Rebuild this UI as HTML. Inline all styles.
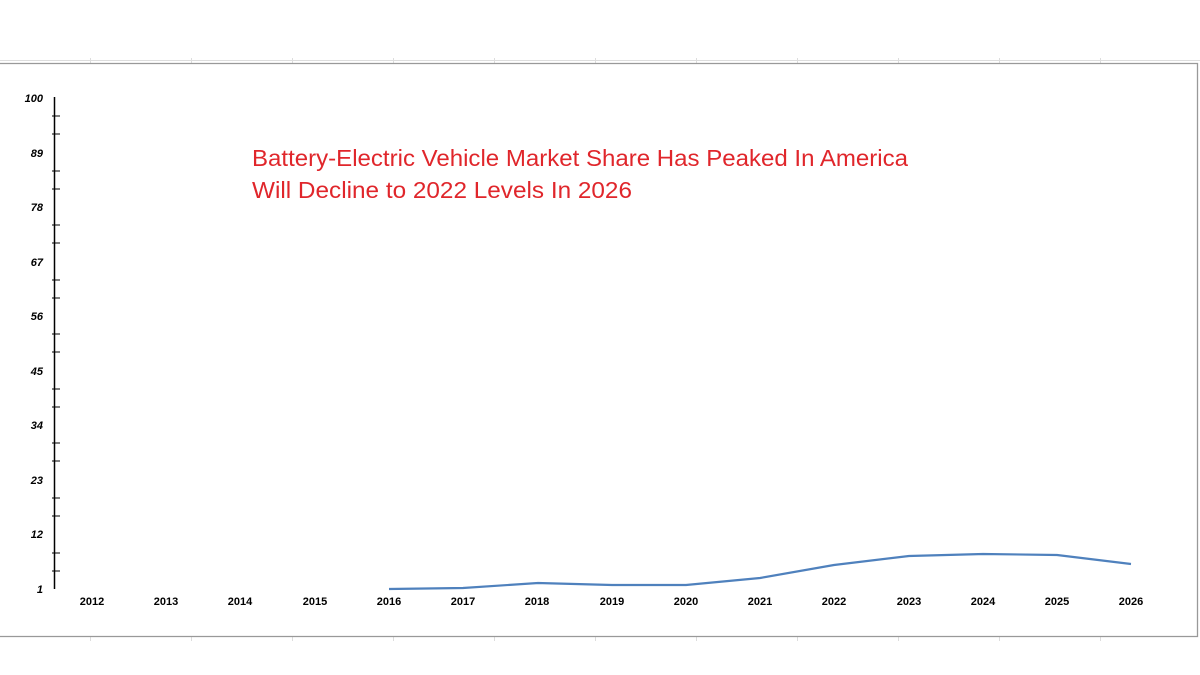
<!DOCTYPE html>
<html><head><meta charset="utf-8"><style>
html,body{margin:0;padding:0;background:#fff;}
svg{display:block}
</style></head><body>
<svg width="1200" height="675" viewBox="0 0 1200 675" xmlns="http://www.w3.org/2000/svg">
<rect width="1200" height="675" fill="#fff"/>
<line x1="0" y1="60.5" x2="1200" y2="60.5" stroke="#ddd" stroke-width="1"/>
<g stroke="#ddd" stroke-width="1">
<line x1="90.5" y1="58" x2="90.5" y2="63"/><line x1="191.5" y1="58" x2="191.5" y2="63"/><line x1="292.5" y1="58" x2="292.5" y2="63"/><line x1="393.5" y1="58" x2="393.5" y2="63"/><line x1="494.5" y1="58" x2="494.5" y2="63"/><line x1="595.5" y1="58" x2="595.5" y2="63"/><line x1="696.5" y1="58" x2="696.5" y2="63"/><line x1="797.5" y1="58" x2="797.5" y2="63"/><line x1="898.5" y1="58" x2="898.5" y2="63"/><line x1="999.5" y1="58" x2="999.5" y2="63"/><line x1="1100.5" y1="58" x2="1100.5" y2="63"/>
<line x1="90.5" y1="636" x2="90.5" y2="641"/><line x1="191.5" y1="636" x2="191.5" y2="641"/><line x1="292.5" y1="636" x2="292.5" y2="641"/><line x1="393.5" y1="636" x2="393.5" y2="641"/><line x1="494.5" y1="636" x2="494.5" y2="641"/><line x1="595.5" y1="636" x2="595.5" y2="641"/><line x1="696.5" y1="636" x2="696.5" y2="641"/><line x1="797.5" y1="636" x2="797.5" y2="641"/><line x1="898.5" y1="636" x2="898.5" y2="641"/><line x1="999.5" y1="636" x2="999.5" y2="641"/><line x1="1100.5" y1="636" x2="1100.5" y2="641"/>
</g>
<path d="M0 63.5 H1197.5 V636.5 H0" fill="none" stroke="#999" stroke-width="1.3"/>
<line x1="54.5" y1="97" x2="54.5" y2="589" stroke="#000" stroke-width="1.5"/>
<g stroke="#000" stroke-width="1">
<line x1="52" y1="116" x2="60" y2="116"/><line x1="52" y1="134" x2="60" y2="134"/>
<line x1="52" y1="171" x2="60" y2="171"/><line x1="52" y1="189" x2="60" y2="189"/>
<line x1="52" y1="225" x2="60" y2="225"/><line x1="52" y1="243" x2="60" y2="243"/>
<line x1="52" y1="280" x2="60" y2="280"/><line x1="52" y1="298" x2="60" y2="298"/>
<line x1="52" y1="334" x2="60" y2="334"/><line x1="52" y1="352" x2="60" y2="352"/>
<line x1="52" y1="389" x2="60" y2="389"/><line x1="52" y1="407" x2="60" y2="407"/>
<line x1="52" y1="443" x2="60" y2="443"/><line x1="52" y1="461" x2="60" y2="461"/>
<line x1="52" y1="498" x2="60" y2="498"/><line x1="52" y1="516" x2="60" y2="516"/>
<line x1="52" y1="553" x2="60" y2="553"/><line x1="52" y1="571" x2="60" y2="571"/>
</g>
<g font-family="Liberation Sans, sans-serif" font-size="11" font-weight="bold" font-style="italic" fill="#000" text-anchor="end">
<text x="43" y="102">100</text><text x="43" y="157">89</text><text x="43" y="211">78</text><text x="43" y="266">67</text><text x="43" y="320">56</text><text x="43" y="375">45</text><text x="43" y="429">34</text><text x="43" y="484">23</text><text x="43" y="538">12</text><text x="43" y="593">1</text>
</g>
<g font-family="Liberation Sans, sans-serif" font-size="11" font-weight="bold" fill="#000" text-anchor="middle">
<text x="92" y="605">2012</text><text x="166" y="605">2013</text><text x="240" y="605">2014</text><text x="315" y="605">2015</text><text x="389" y="605">2016</text><text x="463" y="605">2017</text><text x="537" y="605">2018</text><text x="612" y="605">2019</text><text x="686" y="605">2020</text><text x="760" y="605">2021</text><text x="834" y="605">2022</text><text x="909" y="605">2023</text><text x="983" y="605">2024</text><text x="1057" y="605">2025</text><text x="1131" y="605">2026</text>
</g>
<polyline points="389,589 463,588 538,583 612,585 686,585 760,578 834,565 909,556 983,554 1057,555 1131,564" fill="none" stroke="#4f81bd" stroke-width="2.2" stroke-linejoin="round"/>
<g font-family="Liberation Sans, sans-serif" font-size="23" fill="#e0262b">
<text x="252" y="166" textLength="656" lengthAdjust="spacingAndGlyphs">Battery-Electric Vehicle Market Share Has Peaked In America</text>
<text x="252" y="198" textLength="380" lengthAdjust="spacingAndGlyphs">Will Decline to 2022 Levels In 2026</text>
</g>
</svg>
</body></html>
